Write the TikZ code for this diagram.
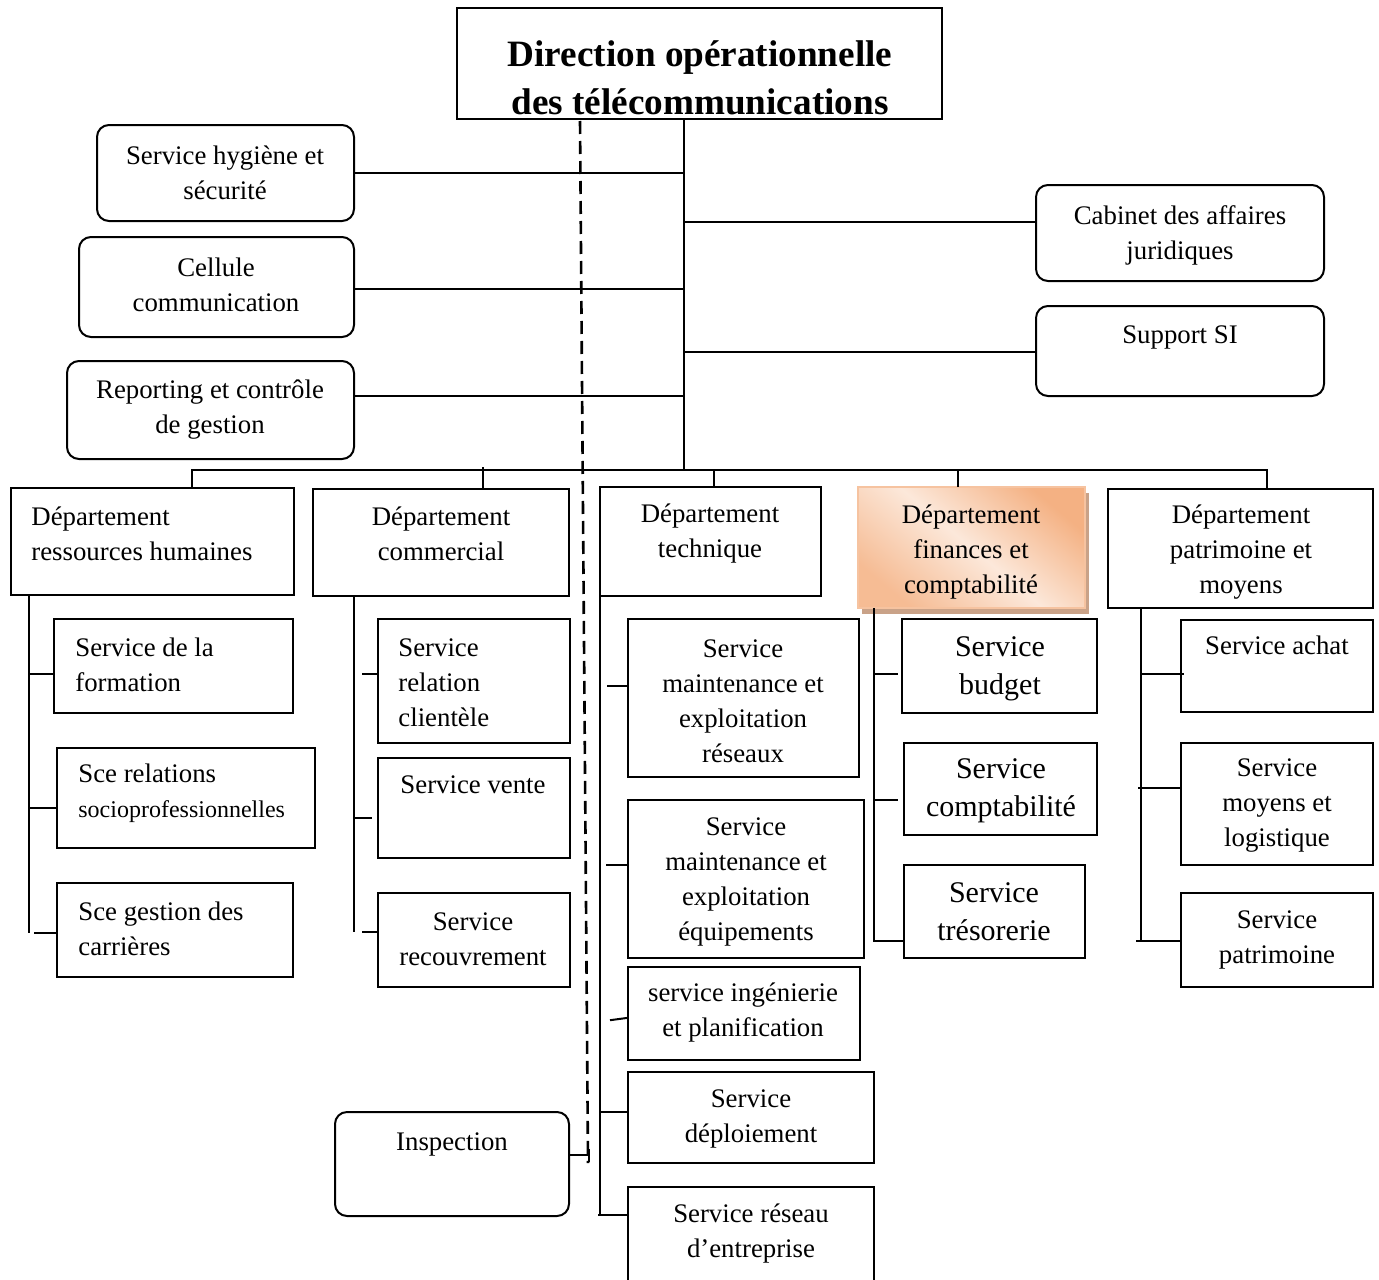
\documentclass[tikz,border=0pt]{standalone}
\usepackage{fontspec}
\setmainfont{Liberation Serif}
\usetikzlibrary{fit,shadows}
\definecolor{finlight}{HTML}{FCE8DA}
\definecolor{findark}{HTML}{F4B183}
\definecolor{finedge}{HTML}{F6C3A0}
\definecolor{finshadow}{HTML}{C9A288}
\begin{document}
\begin{tikzpicture}[x=0.5pt,y=-0.5pt,
  box/.style={draw, line width=1pt, inner sep=0pt, outer sep=0pt},
  rbox/.style={box, rounded corners=6pt},
  txt/.style={align=center, inner sep=0pt, font=\fontsize{13.4}{17.5}\selectfont},
  ltxt/.style={txt, align=left, anchor=west},
  bigtxt/.style={txt, font=\fontsize{15}{19}\selectfont},
  link/.style={line width=1pt},
  dashline/.style={line width=1.3pt, dash pattern=on 6.5pt off 3.5pt},
  finbox/.style={draw=finedge, line width=1pt, inner sep=0pt, outer sep=0pt,
    shading=axis, top color=findark, bottom color=findark!80!finlight,
    middle color=finlight, shading angle=-40,
    drop shadow={shadow xshift=2.2pt, shadow yshift=-2.8pt, fill=finshadow, opacity=1}},
]
\useasboundingbox (0,0) rectangle (1379,1279);

% ---------- head of the organisation ----------
\node[box, fit={(457,8)(942,119)}] (title) {};
\node[txt, font=\fontsize{18.6}{24}\bfseries\selectfont] (title-t) at (700,78)
  {Direction opérationnelle\\des télécommunications};

% ---------- staff units ----------
\node[rbox, fit={(97,125)(354,221)}] (hyg) {};
\node[txt] (hyg-t) at (225,173) {Service hygiène et\\sécurité};
\node[rbox, fit={(79,237)(354,337)}] (cel) {};
\node[txt] (cel-t) at (216,285) {Cellule\\communication};
\node[rbox, fit={(67,361)(354,459)}] (rep) {};
\node[txt] (rep-t) at (210,410) {Reporting et contrôle\\de gestion};
\node[rbox, fit={(1036,185)(1324,281)}] (cab) {};
\node[txt] (cab-t) at (1180,235) {Cabinet des affaires\\juridiques};
\node[rbox, fit={(1036,306)(1324,396)}] (ssi) {};
\node[txt] (ssi-t) at (1180,337) {Support SI};
\node[rbox, fit={(335,1112)(569,1216)}] (insp) {};
\node[txt] (insp-t) at (452,1144) {Inspection};

% ---------- main spine and staff links ----------
\coordinate (mtop) at (684,119);
\coordinate (mbot) at (684,471);
\draw[link] (title.south -| mtop) -- (mbot);
\coordinate (j1) at (684,173);
\coordinate (j2) at (684,289);
\coordinate (j3) at (684,396);
\coordinate (j4) at (684,222);
\coordinate (j5) at (684,352);
\draw[link] (hyg.east |- j1) -- (j1);
\draw[link] (cel.east |- j2) -- (j2);
\draw[link] (rep.east |- j3) -- (j3);
\draw[link] (j4) -- (j4 -| cab.west);
\draw[link] (j5) -- (j5 -| ssi.west);

% ---------- inspection (dashed) line ----------
\coordinate (dtop) at (580,121);
\coordinate (dbot) at (588,1163);
\draw[dashline] (dtop) -- (dbot);
\coordinate (ij) at (589,1155);
\draw[link] (insp.east |- ij) -- (ij);
\draw[link] ([yshift=3pt]ij) -- ([yshift=-3.5pt]ij);

% ---------- departments ----------
\node[box, fit={(11,488)(294,595)}] (rh) {};
\node[ltxt] (rh-t) at (31,534) {Département\\ressources humaines};
\node[box, fit={(313,489)(569,596)}] (com) {};
\node[txt] (com-t) at (441,534) {Département\\commercial};
\node[box, fit={(600,487)(821,596)}] (tec) {};
\node[txt] (tec-t) at (710,534) {Département\\technique};
\node[finbox, fit={(858,487)(1085,608)}] (fin) {};
\node[txt] (fin-t) at (971,552) {Département\\finances et\\comptabilité};
\node[box, fit={(1108,489)(1373,608)}] (pat) {};
\node[txt] (pat-t) at (1241,552) {Département\\patrimoine et\\moyens};

% bus to the departments
\coordinate (b1) at (192,470);
\coordinate (b2) at (483,470);
\coordinate (b3) at (714,470);
\coordinate (b4) at (958,470);
\coordinate (b5) at (1267,470);
\draw[link] (b1 |- rh.north) -- (b1) -- (b5) -- (b5 |- pat.north);
\draw[link] ([yshift=1.5pt]b2) -- (b2 |- com.north);
\draw[link] (b3) -- (b3 |- tec.north);
\draw[link] (b4) -- (b4 |- fin.north);

% ---------- human resources ----------
\node[box, fit={(54,619)(293,713)}] (form) {};
\node[ltxt] (form-t) at (75,665) {Service de la\\formation};
\node[box, fit={(57,748)(315,848)}] (socio) {};
\node[ltxt] (socio-t) at (78,793) {Sce relations\\{\fontsize{12}{16}\selectfont socioprofessionnelles}};
\node[box, fit={(57,883)(293,977)}] (carr) {};
\node[ltxt] (carr-t) at (78,929) {Sce gestion des\\carrières};
\coordinate (rs1) at (29,674);
\coordinate (rs2) at (29,808);
\coordinate (rs3) at (29,933);
\draw[link] (rh.south -| rs3) -- (rs3);
\draw[link] (rs1) -- (rs1 -| form.west);
\draw[link] (rs2) -- (rs2 -| socio.west);
\draw[link] ([xshift=2.5pt]rs3) -- (rs3 -| carr.west);

% ---------- commercial ----------
\node[box, fit={(378,619)(570,743)}] (rcl) {};
\node[ltxt] (rcl-t) at (398,683) {Service\\relation\\clientèle};
\node[box, fit={(378,758)(570,858)}] (ven) {};
\node[txt] (ven-t) at (473,785) {Service vente};
\node[box, fit={(378,893)(570,987)}] (rec) {};
\node[txt] (rec-t) at (473,939) {Service\\recouvrement};
\coordinate (cs1) at (354,674);
\coordinate (cs2) at (354,818);
\coordinate (cs3) at (354,932);
\draw[link] (com.south -| cs3) -- (cs3);
\draw[link] ([xshift=4pt]cs1) -- (cs1 -| rcl.west);
\draw[link] (cs2) -- ([xshift=-3pt]cs2 -| ven.west);
\draw[link] ([xshift=4pt]cs3) -- (cs3 -| rec.west);

% ---------- technical ----------
\node[box, fit={(628,619)(859,777)}] (mr) {};
\node[txt] (mr-t) at (743,701) {Service\\maintenance et\\exploitation\\réseaux};
\node[box, fit={(628,800)(864,958)}] (me) {};
\node[txt] (me-t) at (746,882) {Service\\maintenance et\\exploitation\\équipements};
\node[box, fit={(628,967)(860,1060)}] (ing) {};
\node[txt] (ing-t) at (743,1013) {service ingénierie\\et planification};
\node[box, fit={(628,1072)(874,1163)}] (dep) {};
\node[txt] (dep-t) at (751,1119) {Service\\déploiement};
\node[box, fit={(628,1187)(874,1300)}] (ent) {};
\node[txt] (ent-t) at (751,1234) {Service réseau\\d’entreprise};
\coordinate (ts1) at (600,686);
\coordinate (ts2) at (600,865);
\coordinate (ts3) at (600,1019);
\coordinate (ts4) at (600,1112);
\coordinate (ts5) at (600,1215);
\draw[link] (tec.south -| ts5) -- (ts5);
\draw[link] ([xshift=3.5pt]ts1) -- (ts1 -| mr.west);
\draw[link] ([xshift=3pt]ts2) -- (ts2 -| me.west);
\draw[link] ([xshift=5pt,yshift=-0.6pt]ts3) -- ([yshift=0.6pt]ts3 -| ing.west);
\draw[link] (ts4) -- (ts4 -| dep.west);
\draw[link] ([xshift=-1pt]ts5) -- (ts5 -| ent.west);

% ---------- finance ----------
\node[box, fit={(902,619)(1097,713)}] (bud) {};
\node[bigtxt] (bud-t) at (1000,669) {Service\\budget};
\node[box, fit={(904,743)(1097,835)}] (cpt) {};
\node[bigtxt] (cpt-t) at (1001,791) {Service\\comptabilité};
\node[box, fit={(904,865)(1085,958)}] (tre) {};
\node[bigtxt] (tre-t) at (994,912) {Service\\trésorerie};
\coordinate (fs1) at (874,674);
\coordinate (fs2) at (874,800);
\coordinate (fs3) at (874,941);
\draw[link] (fin.south -| fs3) -- (fs3) -- (fs3 -| tre.west);
\draw[link] (fs1) -- ([xshift=-2pt]fs1 -| bud.west);
\draw[link] (fs2) -- ([xshift=-3pt]fs2 -| cpt.west);

% ---------- property and resources ----------
\node[box, fit={(1181,620)(1373,712)}] (ach) {};
\node[txt] (ach-t) at (1277,645) {Service achat};
\node[box, fit={(1181,743)(1373,865)}] (moy) {};
\node[txt] (moy-t) at (1277,806) {Service\\moyens et\\logistique};
\node[box, fit={(1181,893)(1373,987)}] (patr) {};
\node[txt] (patr-t) at (1277,940) {Service\\patrimoine};
\coordinate (ps1) at (1141,674);
\coordinate (ps2) at (1141,788);
\coordinate (ps3) at (1141,941);
\draw[link] (pat.south -| ps3) -- (ps3);
\draw[link] (ps1) -- ([xshift=1.5pt]ps1 -| ach.west);
\draw[link] ([xshift=-1.5pt]ps2) -- (ps2 -| moy.west);
\draw[link] ([xshift=-2.5pt]ps3) -- (ps3 -| patr.west);
\end{tikzpicture}
\end{document}
